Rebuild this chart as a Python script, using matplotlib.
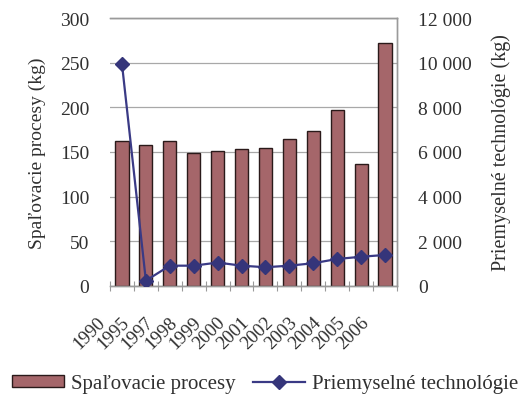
import matplotlib
matplotlib.use("Agg")
import matplotlib.pyplot as plt
from matplotlib.transforms import ScaledTranslation
import numpy as np

years = ["1990", "1995", "1997", "1998", "1999", "2000", "2001", "2002", "2003", "2004", "2005", "2006"]
spalovacie = [162, 158, 162, 149, 151, 153, 155, 164, 173, 197, 137, 272]
priemyselne = [9950, 240, 910, 910, 1050, 910, 840, 910, 1020, 1210, 1310, 1390]

plt.rcParams['font.family'] = 'serif'
plt.rcParams['font.serif'] = ['Liberation Serif', 'DejaVu Serif']

fig = plt.figure(figsize=(5.3, 4.14), dpi=100)
ax = fig.add_axes([110/530, 1-287/414, (397-110)/530, (287-19)/414])
ax2 = ax.twinx()

x = np.arange(len(years))
bar_color = "#A5666A"
line_color = "#3A3A85"

bars = ax.bar(x, spalovacie, width=0.55, color=bar_color, edgecolor="#2a1a1a", linewidth=1.0,
              label="Spaľovacie procesy", zorder=3)
ax.set_ylim(0, 300)
ax.set_yticks(np.arange(0, 301, 50))
ax.set_xlim(-0.5, len(years) - 0.5)
ax.yaxis.grid(True, color="#a8a8a8", linewidth=0.9, zorder=0)
ax.set_axisbelow(True)

line, = ax2.plot(x, priemyselne, color=line_color, marker="D", markersize=7, linewidth=1.6,
                 markerfacecolor="#35357a", markeredgecolor="#35357a", label="Priemyselné technológie", zorder=5)
ax2.set_ylim(0, 12000)
ax2.set_yticks(np.arange(0, 12001, 2000))
ax2.set_yticklabels([f"{int(v):,}".replace(",", " ") for v in np.arange(0, 12001, 2000)])

for a in (ax, ax2):
    for s in a.spines.values():
        s.set_color("#9a9a9a")
        s.set_linewidth(1.0)
ax.spines['left'].set_visible(False)
ax2.spines['left'].set_visible(False)

ax.tick_params(axis='y', length=0, labelsize=14, pad=15, colors="#303030")
ax2.tick_params(axis='y', length=0, labelsize=14, pad=15, colors="#303030")

# x ticks between categories
ax.set_xticks(np.arange(-0.5, len(years), 1.0))
ax.set_xticklabels([])
ax.tick_params(axis='x', direction='inout', length=7, color="#9a9a9a")

tr = ax.get_xaxis_transform() + ScaledTranslation(-19/100, -33/100, fig.dpi_scale_trans)
for i, lab in enumerate(years):
    ax.text(x[i], 0, lab, transform=tr, rotation=45, ha='right', va='center',
            rotation_mode='anchor', fontsize=13.5, color="#303030")

ax.set_ylabel("Spaľovacie procesy (kg)", fontsize=14, color="#303030", labelpad=10)
ax2.set_ylabel("Priemyselné technológie (kg)", fontsize=14.5, color="#303030", labelpad=14)

leg = fig.legend([bars, line], ["Spaľovacie procesy", "Priemyselné technológie"],
                 loc='center', bbox_to_anchor=(0.5, 1-385/414), ncol=2, frameon=False,
                 fontsize=15, handlelength=2.5, handleheight=0.55, columnspacing=0.8, handletextpad=0.35)
for t in leg.get_texts():
    t.set_color("#303030")

fig.savefig("out.png", dpi=100)
